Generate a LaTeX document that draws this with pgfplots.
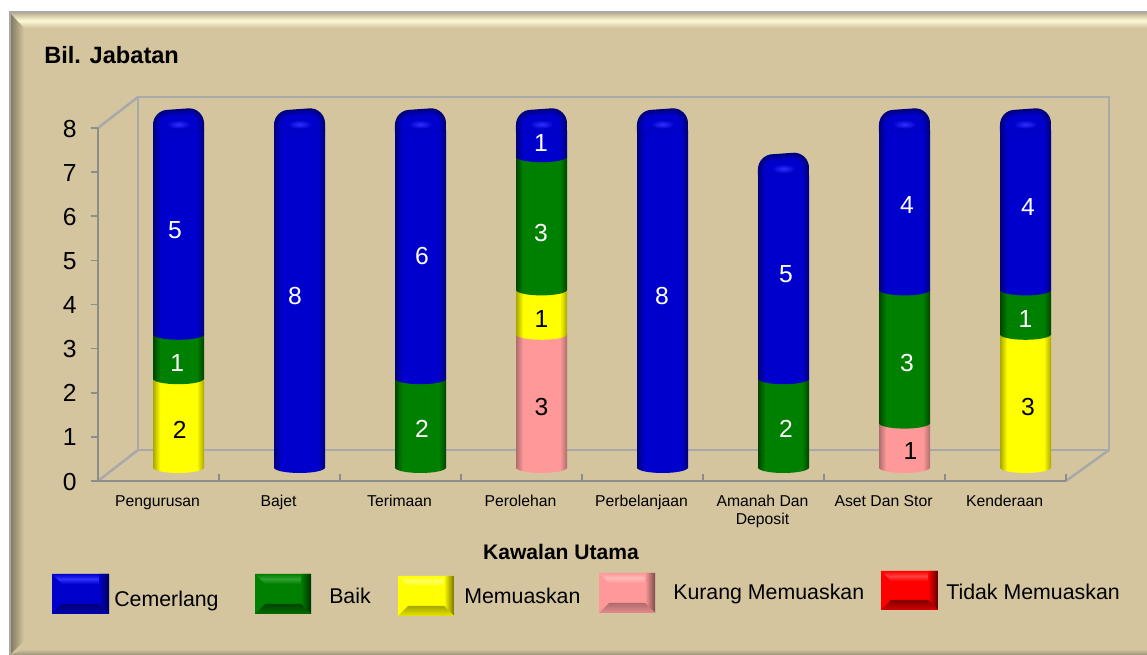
\documentclass[border=0pt]{standalone}
\usepackage{pgfplots}
\usepackage{pgfplotstable}
\usepackage{fontspec}
\setmainfont{Liberation Sans}
\pgfplotsset{compat=1.18}
\definecolor{bgTan}{HTML}{D4C59F}
\definecolor{wallGray}{HTML}{A9A9A9}
\definecolor{axisGray}{HTML}{8C8C8C}
\definecolor{mBlue}{HTML}{0000CC}\definecolor{dBlue}{HTML}{00007A}\definecolor{lBlue}{HTML}{3030FF}
\definecolor{mGreen}{HTML}{008000}\definecolor{dGreen}{HTML}{004400}\definecolor{lGreen}{HTML}{30A030}
\definecolor{mYellow}{HTML}{FFFF00}\definecolor{dYellow}{HTML}{A8A800}\definecolor{lYellow}{HTML}{FFFF60}
\definecolor{mPink}{HTML}{FF9999}\definecolor{dPink}{HTML}{B06C6C}\definecolor{lPink}{HTML}{FFB8B8}
\definecolor{mRed}{HTML}{FF0000}\definecolor{dRed}{HTML}{800000}\definecolor{lRed}{HTML}{FF4040}
\newcommand\fs[1]{\fontsize{#1}{13.5}\selectfont}
% horizontal cylinder shadings; 25bp..75bp is the width of the shaded path
\newcommand\cylshade[1]{\pgfdeclarehorizontalshading{cyl#1}{100bp}{color(0bp)=(d#1); color(25bp)=(d#1); color(32bp)=(m#1); color(68bp)=(m#1); color(75bp)=(d#1); color(100bp)=(d#1)}}
\cylshade{Blue}\cylshade{Green}\cylshade{Yellow}\cylshade{Pink}
% curved foot of a segment, in the colour of that segment
\newcommand\ellmark[1]{\pgfdeclareplotmark{ell#1}{\begin{scope}[x=0.75pt,y=0.75pt]\shade[draw=none,shading=cyl#1,rotate=4] (0,0) ellipse (25.5 and 5.5);\end{scope}}}
\ellmark{Blue}\ellmark{Green}\ellmark{Yellow}\ellmark{Pink}
% rounded top of a cylinder; the tan patch hides the square corners of the bar
\pgfdeclareplotmark{topcap}{\begin{scope}[x=0.75pt,y=0.75pt]
  \fill[draw=none,bgTan] (-27,-18) rectangle (27,5);
  \foreach \k/\p in {0/0,1/20,2/40,3/60,4/80,5/100}{
    \pgfmathsetmacro\a{25.5-1.2*\k}
    \pgfmathsetmacro\tl{2.5-1.2*\k}
    \pgfmathsetmacro\tr{4-1.2*\k}
    \pgfmathsetmacro\r{15-\k}
    \fill[draw=none,mBlue!\p!dBlue]
      (-\a,-19) -- (-\a,\tl-\r) .. controls (-\a,\tl-0.45*\r) and (-\a+0.45*\r,\tl) .. (-\a+\r,\tl)
      -- (\a-\r,\tr) .. controls (\a-0.45*\r,\tr) and (\a,\tr-0.45*\r) .. (\a,\tr-\r) -- (\a,-19) -- cycle;}
  \shade[draw=none,inner color=lBlue,outer color=mBlue] (0,-12) ellipse (12 and 4.5);
\end{scope}}
\pgfplotstableread{
x y lab
-0.03 5.35 5
-0.01 2.35 1
0.963 3.86 8
2.012 4.76 6
2.012 0.87 2
2.996 7.31 1
2.996 5.28 3
3.996 3.86 8
5.02 4.36 5
5.02 0.87 2
6.02 5.91 4
6.02 2.35 3
7.02 5.87 4
7.00 3.34 1
}\whitelabels
\pgfplotstableread{
x y lab
0.01 0.84 2
3.00 3.34 1
3.00 1.36 3
6.05 0.37 1
7.02 1.36 3
}\blacklabels
% bevelled legend key: x0 y0 x1 y1 colour name
\newcommand\swatch[5]{%
  \fill[m#5] (#1,#2) rectangle (#3,#4);
  \shade[top color=m#5,bottom color=m#5,middle color=l#5] (#1,#2) -- (#3,#2) -- (#3-10,#2+10) -- (#1+10,#2+10) -- cycle;
  \shade[left color=m#5,right color=d#5!70!black] (#3-10,#2) -- (#3,#2) -- (#3,#4) -- (#3-10,#4-10) -- (#3-10,#2+10) -- cycle;
  \shade[top color=d#5,bottom color=m#5!70!d#5] (#1,#4) -- (#1+10,#4-10) -- (#3-10,#4-10) -- (#3,#4) -- cycle;}
\pgfplotsset{hidden/.style={scale only axis, width=726pt, height=266.4pt, hide axis, clip=false,
  xmin=-0.5, xmax=7.5, ymin=0, ymax=8, at={(88.5pt,-350.625pt)}, anchor=south west}}
% one cylinder: position, then Kurang Memuaskan, Memuaskan, Baik, Cemerlang
\newcommand\cylinder[5]{%
\begin{axis}[hidden, ybar stacked, bar width=38.25pt]
\addplot[shade,shading=cylPink,draw=none] coordinates {(#1,#2)};
\addplot[shade,shading=cylYellow,draw=none] coordinates {(#1,#3)};
\addplot[shade,shading=cylGreen,draw=none] coordinates {(#1,#4)};
\addplot[shade,shading=cylBlue,draw=none] coordinates {(#1,#5)};
\end{axis}}
\begin{document}
\begin{tikzpicture}[x=0.75pt,y=-0.75pt]
\path[use as bounding box] (0,0) rectangle (1147,655);
\fill[white] (0,0) rectangle (1147,655);
% panel with bevelled edge
\fill[bgTan] (10,13) rectangle (1147,655);
\shade[top color=bgTan!90!black,bottom color=bgTan,middle color=bgTan!35!yellow!20!white] (10,13) -- (1147,13) -- (1147,28) -- (24,28) -- cycle;
\shade[left color=bgTan!60!black,right color=bgTan] (10,13) -- (24,28) -- (24,641) -- (10,655) -- cycle;
\shade[top color=bgTan,bottom color=bgTan!75!black] (10,655) -- (24,649) -- (1147,649) -- (1147,655) -- cycle;
\draw[wallGray,line width=1.5pt] (1147,12.5) -- (9.5,12.5) -- (9.5,655);
% back wall and floor
\draw[wallGray,line width=1.9pt] (138,450) rectangle (1109,97);
\draw[wallGray,line width=1.9pt] (98,128) -- (138,97) (98,481) -- (138,450) (1066,481) -- (1109,450);
\node[anchor=west,inner sep=0pt,font=\bfseries\fs{17.7}] at (44,55) {Bil. Jabatan};
\node[font=\bfseries\fs{15.8}] at (561,552) {Kawalan Utama};
% front axis with the ticks and tick labels
\begin{axis}[scale only axis, width=726pt, height=264.75pt, at={(73.5pt,-360.75pt)}, anchor=south west,
  xmin=0, xmax=8, ymin=0, ymax=8, axis x line*=bottom, axis y line*=left,
  axis line style={axisGray,line width=2pt,-},
  xtick={0,...,8}, x tick label as interval, xticklabels={Pengurusan,Bajet,Terimaan,Perolehan,Perbelanjaan,{Amanah Dan\\Deposit},Aset Dan Stor,Kenderaan},
  ytick={0,...,8}, tick style={axisGray,line width=1.2pt}, major tick length=5.5pt,
  xtick align=inside, ytick align=outside, typeset ticklabels with strut,
  x tick label style={font=\fs{11.8},align=center,yshift=-6.3pt,xshift=-0.7pt},
  y tick label style={font=\fs{18.5},xshift=-7pt,yshift=-2.5pt},
  /pgf/number format/assume math mode=true]
\end{axis}
% stacked cylinders
\cylinder{0}{0}{2}{1}{5}
\cylinder{1}{0}{0}{0}{8}
\cylinder{2}{0}{0}{2}{6}
\cylinder{3}{3}{1}{3}{1}
\cylinder{4}{0}{0}{0}{8}
\cylinder{5}{0}{0}{2}{5}
\cylinder{6}{1}{0}{3}{4}
\cylinder{7}{0}{3}{1}{4}
% segment feet, tops and value labels
\begin{axis}[hidden]
\addplot[only marks,mark=ellPink] coordinates {(3,0) (6,0)};
\addplot[only marks,mark=ellYellow] coordinates {(0,0) (3,3) (7,0)};
\addplot[only marks,mark=ellGreen] coordinates {(0,2) (2,0) (3,4) (5,0) (6,1) (7,3)};
\addplot[only marks,mark=ellBlue] coordinates {(0,3) (1,0) (2,2) (3,7) (4,0) (5,2) (6,4) (7,4)};
\addplot[only marks,mark=topcap] coordinates {(0,8) (1,8) (2,8) (3,8) (4,8) (5,7) (6,8) (7,8)};
\addplot[only marks,mark=none,point meta=explicit symbolic,nodes near coords,
  nodes near coords style={anchor=center,inner sep=0pt,text=white,font=\fs{18.5}}] table[x=x,y=y,meta=lab] {\whitelabels};
\addplot[only marks,mark=none,point meta=explicit symbolic,nodes near coords,
  nodes near coords style={anchor=center,inner sep=0pt,text=black,font=\fs{18.5}}] table[x=x,y=y,meta=lab] {\blacklabels};
\end{axis}
% legend
\swatch{52}{574}{109}{614}{Blue}
\swatch{255}{574}{311}{614}{Green}
\swatch{398}{576}{454}{616}{Yellow}
\swatch{599}{573}{655}{613}{Pink}
\swatch{881}{571}{938}{610}{Red}
\tikzset{legtxt/.style={anchor=base west,inner sep=0pt,font=\fs{16}}}
\node[legtxt] at (114,606.5) {Cemerlang};
\node[legtxt] at (329,603.5) {Baik};
\node[legtxt] at (464,603.5) {Memuaskan};
\node[legtxt] at (673,600) {Kurang Memuaskan};
\node[legtxt] at (946,600) {Tidak Memuaskan};
\end{tikzpicture}
\end{document}
